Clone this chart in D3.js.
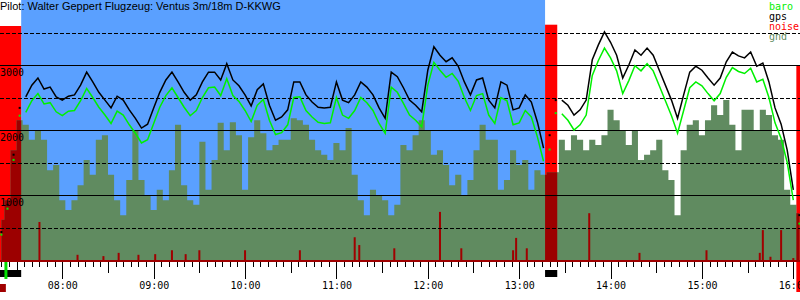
<!DOCTYPE html>
<html>
<head>
<meta charset="utf-8">
<script src="https://cdn.jsdelivr.net/npm/d3@7"></script>
<style>
  body { margin: 0; background: #fff; }
  svg { display: block; }
  .tick text { font-family: "DejaVu Sans Mono", monospace; font-size: 10px; fill: #000; }
  .tick line { stroke: #000; shape-rendering: crispEdges; }
</style>
</head>
<body>
<svg id="flight" width="800" height="300"></svg>
<script>
// ---------- data

const pilot = 'Pilot: Walter Geppert Flugzeug: Ventus 3m/18m D-KKWG';
const seriesNames = ['baro', 'gps', 'noise', 'gnd'];

// samples every 4 minutes starting 07:20
const sampleStart = '07:20';
const sampleStep = 4;

// gps altitude (m)
const gps = [
  430, 850, 1620, 2340, 2510, 2690, 2800, 2630, 2660, 2510,
  2460, 2520, 2540, 2690, 2890, 2740, 2580, 2460, 2340, 2520,
  2460, 2310, 2180, 2030, 2090, 2340, 2580, 2770, 2890, 2740,
  2580, 2460, 2540, 2740, 2890, 2890, 2770, 3020, 2770, 2680,
  2540, 2370, 2620, 2710, 2380, 2150, 2200, 2310, 2740, 2740,
  2540, 2430, 2350, 2340, 2350, 2740, 2460, 2420, 2540, 2740,
  2660, 2540, 2340, 2180, 2890, 2820, 2650, 2460, 2380, 2280,
  2920, 3280, 3150, 3050, 3110, 2980, 2740, 2540, 2770, 2800,
  2460, 2340, 2740, 2690, 2310, 2340, 2540, 2430, 2120, 1720,
  1920, 2460, 2460, 2380, 2230, 2310, 2460, 3080, 3310, 3510,
  3350, 3150, 2800, 3000, 3230, 3150, 3260, 3150, 2920, 2690,
  2460, 2180, 2540, 2890, 2980, 2920, 2800, 2690, 2800, 3050,
  3200, 3140, 3110, 3200, 2980, 3030, 2740, 2340, 2090, 1690,
  1080, 690
];

// barometric altitude (m)
const baro = [
  390, 790, 1540, 2220, 2270, 2450, 2560, 2400, 2420, 2280,
  2220, 2290, 2300, 2450, 2640, 2500, 2350, 2230, 2100, 2290,
  2230, 2080, 1950, 1800, 1850, 2100, 2350, 2530, 2650, 2500,
  2350, 2220, 2300, 2500, 2650, 2660, 2530, 2790, 2530, 2440,
  2300, 2130, 2380, 2470, 2150, 1930, 1960, 2080, 2500, 2510,
  2300, 2200, 2120, 2100, 2110, 2500, 2230, 2180, 2300, 2500,
  2420, 2300, 2100, 1950, 2660, 2580, 2410, 2230, 2150, 2050,
  2690, 3040, 2920, 2810, 2870, 2750, 2500, 2300, 2530, 2560,
  2230, 2100, 2500, 2450, 2080, 2110, 2300, 2200, 1890, 1520,
  1700, 2260, 2250, 2150, 2000, 2080, 2230, 2840, 3070, 3260,
  3110, 2910, 2560, 2760, 2990, 2910, 3020, 2910, 2680, 2450,
  2220, 1950, 2300, 2650, 2740, 2680, 2560, 2450, 2560, 2810,
  2960, 2900, 2870, 2950, 2740, 2780, 2500, 2110, 1870, 1500,
  920, 560
];

// ground elevation under the track (m)
const gnd = [
  620, 920, 1690, 2150, 2080, 1850, 2000, 1850, 1380, 1460,
  920, 770, 920, 1150, 1540, 1310, 1850, 1920, 1310, 920,
  690, 1230, 2000, 1230, 1000, 770, 1080, 920, 1380, 2080,
  1150, 920, 850, 1820, 1080, 1540, 2110, 1690, 2120, 1920,
  1080, 1890, 2150, 1950, 1690, 1770, 1850, 1850, 2180, 2150,
  2080, 1850, 1690, 1620, 1540, 1800, 1690, 2030, 1310, 920,
  690, 1080, 1000, 920, 690, 850, 1770, 1690, 1920, 2150,
  2000, 1620, 1690, 1460, 1150, 1310, 1000, 1230, 1690, 2080,
  1850, 1850, 1080, 1230, 1690, 1460, 1540, 1080, 1380, 1310,
  1350, 1350, 1850, 1690, 1920, 1850, 1690, 1850, 1770, 1920,
  2310, 2150, 2000, 1770, 2000, 1540, 1620, 1690, 1850, 1380,
  1230, 690, 1690, 2080, 2150, 1920, 2150, 2380, 2230, 2460,
  2080, 1690, 2310, 2310, 2000, 2310, 2230, 1920, 1850, 1080,
  850, 720
];

// engine noise spikes while gliding
const noiseTimes = [
  '07:45', '08:10', '08:27', '08:37', '08:50', '09:01', '09:12', '09:21', '09:30',
  '10:00', '10:36', '11:12', '11:15', '11:38', '12:08', '12:22', '12:56', '12:58',
  '13:05', '13:46', '14:19', '15:03', '15:38', '15:40', '15:45', '15:52', '16:00'
];
const noiseLevels = [
  585, 80, 60, 110, 80, 90, 150, 90, 150,
  150, 150, 350, 230, 180, 740, 180, 150, 340,
  180, 720, 110, 150, 110, 460, 50, 460, 30
];

// engine runs
const engineFrom = ['07:19', '13:17', '16:02'];
const engineTo = ['07:33', '13:25', '16:08'];
const engineLevel = [3600, 3620, 3000];

const taskStart = '07:33';
const taskEnd = '13:17';
const takeoff = '07:22';

const altGrid = [500, 1000, 1500, 2000, 2500, 3000, 3500];
const altLabels = [1000, 2000, 3000];
const hourLabels = ['08:00', '09:00', '10:00', '11:00', '12:00', '13:00', '14:00', '15:00', '16:00'];

// ---------- setup

const width = 800, height = 300;
const svg = d3.select('#flight');

const parseTime = d3.timeParse('%H:%M');
const times = gps.map((d, i) => d3.timeMinute.offset(parseTime(sampleStart), i * sampleStep));

const xScale = d3.scaleTime()
  .domain([parseTime('08:00'), parseTime('16:00')])
  .range([62.3, 793.3]);

const yScale = d3.scaleLinear()
  .domain([0, 4000])
  .range([260, 0]);

const runs = engineFrom.map((f, i) => ({from: parseTime(f), to: parseTime(engineTo[i]), level: engineLevel[i]}));
const inEngine = t => runs.some(r => t >= r.from && t <= r.to);
const endTime = xScale.invert(width);

// ---------- background bands

svg.append('rect')
  .attr('x', xScale(parseTime(taskStart)))
  .attr('y', 0)
  .attr('width', xScale(parseTime(taskEnd)) - xScale(parseTime(taskStart)))
  .attr('height', yScale(0))
  .attr('fill', '#5aa0ff');

svg.selectAll('.engine')
  .data(runs)
  .join('rect')
  .attr('class', 'engine')
  .attr('x', d => xScale(d.from))
  .attr('y', d => yScale(d.level))
  .attr('width', d => xScale(d.to) - xScale(d.from))
  .attr('height', d => (d.to >= endTime ? 292 : yScale(0)) - yScale(d.level))
  .attr('fill', '#ff0000');

// ---------- ground

const gndArea = d3.area()
  .curve(d3.curveStep)
  .x((d, i) => xScale(times[i]))
  .y0(yScale(0))
  .y1(d => yScale(d));

svg.append('path')
  .datum(gnd)
  .attr('d', gndArea)
  .attr('fill', '#608b60');

const clip = svg.append('clipPath').attr('id', 'engineClip');
clip.selectAll('rect')
  .data(runs)
  .join('rect')
  .attr('x', d => xScale(d.from))
  .attr('y', 0)
  .attr('width', d => xScale(d.to) - xScale(d.from))
  .attr('height', yScale(0));

svg.append('path')
  .datum(gnd)
  .attr('d', gndArea)
  .attr('fill', '#9c0000')
  .attr('clip-path', 'url(#engineClip)');

// noise spikes
svg.selectAll('.noise')
  .data(noiseLevels)
  .join('rect')
  .attr('class', 'noise')
  .attr('x', (d, i) => xScale(parseTime(noiseTimes[i])) - 1)
  .attr('y', d => yScale(d))
  .attr('width', 2)
  .attr('height', d => yScale(0) - yScale(d))
  .attr('fill', '#a00000');

// ---------- grid

svg.selectAll('.grid')
  .data(altGrid)
  .join('line')
  .attr('class', 'grid')
  .attr('x1', 0)
  .attr('x2', width)
  .attr('y1', d => Math.round(yScale(d)) + 0.5)
  .attr('y2', d => Math.round(yScale(d)) + 0.5)
  .attr('stroke', '#000')
  .attr('stroke-dasharray', d => d % 1000 ? '4,2' : null);

svg.selectAll('.altLabel')
  .data(altLabels)
  .join('text')
  .attr('class', 'altLabel')
  .attr('x', 0)
  .attr('y', d => yScale(d) + 11)
  .attr('font-family', 'DejaVu Sans Mono, monospace')
  .attr('font-size', 10)
  .attr('fill', '#000')
  .text(d => d);

// ---------- altitude traces

const trace = d3.line()
  .defined((d, i) => !inEngine(times[i]))
  .x((d, i) => xScale(times[i]))
  .y(d => yScale(d));

svg.append('path')
  .datum(gps)
  .attr('d', trace)
  .attr('fill', 'none')
  .attr('stroke', '#000')
  .attr('stroke-width', 1.5);

svg.append('path')
  .datum(baro)
  .attr('d', trace)
  .attr('fill', 'none')
  .attr('stroke', '#00f000')
  .attr('stroke-width', 1.5);

// during engine runs only fixes are shown
[[gps, '#000'], [baro, '#00f000']].forEach(([series, colour]) => {
  svg.append('g')
    .selectAll('rect')
    .data(series.map((v, i) => ({t: times[i], v})).filter(d => inEngine(d.t)))
    .join('rect')
    .attr('x', d => xScale(d.t) - 1)
    .attr('y', d => yScale(d.v) - 1)
    .attr('width', 2)
    .attr('height', 2)
    .attr('fill', colour);
});

// ---------- time axis

svg.append('line')
  .attr('x1', 0)
  .attr('x2', width)
  .attr('y1', yScale(0) + 1)
  .attr('y2', yScale(0) + 1)
  .attr('stroke', '#a00000')
  .attr('stroke-width', 2);

const axisY = yScale(0) + 2;
const fiveMin = d3.timeMinute.every(5).range(parseTime('07:20'), parseTime('16:05'));
const halfHours = d3.timeMinute.every(30).range(parseTime('07:30'), parseTime('16:05'));

svg.append('g')
  .attr('transform', `translate(0,${axisY})`)
  .call(d3.axisBottom(xScale).tickValues(fiveMin).tickSize(5).tickFormat(''))
  .call(g => g.select('.domain').remove());

svg.append('g')
  .attr('transform', `translate(0,${axisY})`)
  .call(d3.axisBottom(xScale).tickValues(halfHours).tickSize(11).tickFormat(''))
  .call(g => g.select('.domain').remove());

svg.append('g')
  .attr('transform', `translate(0,${axisY})`)
  .call(d3.axisBottom(xScale)
    .tickValues(hourLabels.map(parseTime))
    .tickSize(17)
    .tickFormat(d3.timeFormat('%H:%M')))
  .call(g => g.select('.domain').remove())
  .call(g => g.selectAll('text').attr('y', 27).attr('dy', 0));

// engine run markers under the axis
svg.selectAll('.runMark')
  .data(runs.filter(d => d.to < endTime))
  .join('rect')
  .attr('class', 'runMark')
  .attr('x', d => xScale(d.from))
  .attr('y', axisY + 8)
  .attr('width', d => xScale(d.to) - xScale(d.from))
  .attr('height', 7)
  .attr('fill', '#000');

svg.append('rect')
  .attr('x', xScale(parseTime(takeoff)))
  .attr('y', axisY)
  .attr('width', 3)
  .attr('height', 17)
  .attr('fill', '#00e000');

svg.append('rect')
  .attr('x', xScale(parseTime(engineFrom[0])))
  .attr('y', axisY + 22)
  .attr('width', 6)
  .attr('height', 8)
  .attr('fill', '#a00000');

// ---------- title and legend

svg.append('text')
  .attr('x', 0)
  .attr('y', 10)
  .attr('font-family', 'Liberation Sans, Arial, sans-serif')
  .attr('font-size', 11)
  .attr('fill', '#000')
  .text(pilot);

const legendColours = ['#00f000', '#000', '#ff0000', '#608b60'];
svg.selectAll('.legend')
  .data(seriesNames)
  .join('text')
  .attr('class', 'legend')
  .attr('x', 769)
  .attr('y', (d, i) => 10 + i * 10)
  .attr('font-family', 'DejaVu Sans Mono, monospace')
  .attr('font-size', 10)
  .attr('fill', (d, i) => legendColours[i])
  .text(d => d);
</script>
</body>
</html>
